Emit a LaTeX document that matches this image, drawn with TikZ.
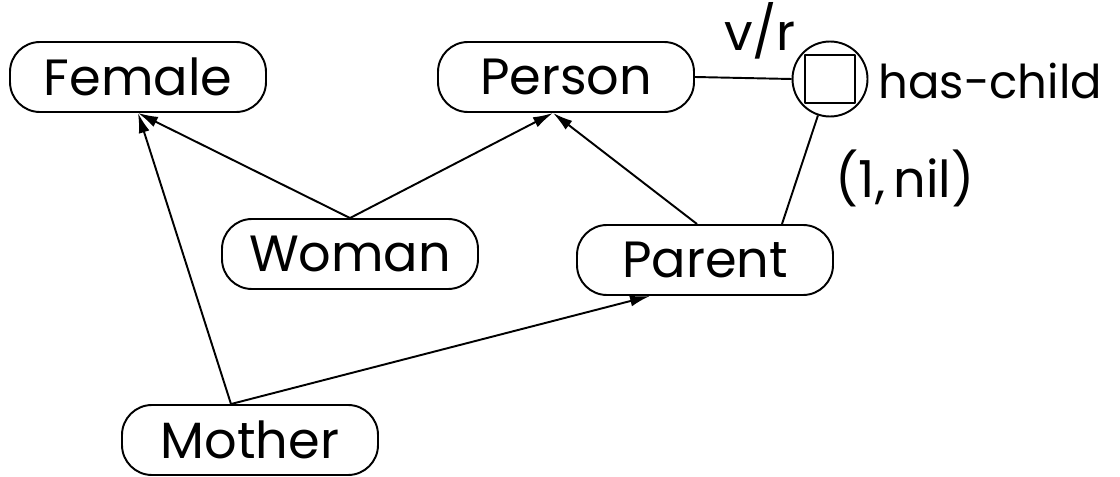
\documentclass[tikz,border=0pt]{standalone}
\usepackage{fontspec}
\setmainfont{Poppins}
\usetikzlibrary{arrows.meta}
\tikzset{
  concept/.style={draw,rounded corners=0.6cm,minimum width=5.12cm,minimum height=1.4cm,inner sep=0pt},
  isa/.style={-{Latex[length=0.4cm,width=0.22cm]}},
  rolecirc/.style={draw,circle,minimum size=1.5cm,inner sep=0pt},
  rolebox/.style={draw,minimum width=1cm,minimum height=0.95cm,inner sep=0pt},
}
\begin{document}
\begin{tikzpicture}[line width=1.1pt,line join=round,font=\fontsize{29}{34}\selectfont]
  \useasboundingbox (0,0) rectangle (22.4,9.52);
  % concepts
  \node[concept] (Female) at (2.76,7.98) {Female};
  \node[concept] (Person) at (11.32,7.98) {Person};
  \node[concept] (Woman) at (7.0,4.44) {Woman};
  \node[concept] (Parent) at (14.1,4.32) {Parent};
  \node[concept] (Mother) at (5.0,0.72) {Mother};
  % role has-child
  \node[rolecirc] (hc) at (16.6,7.94) {};
  \node[rolebox] (hcbox) at (hc) {};
  \node[anchor=west,inner sep=0pt,font=\fontsize{26.5}{30}\selectfont] (hclabel) at (17.55,7.9) {has-child};
  \node (vr) at (15.2,8.9) {v/r};
  \node (card) at (18.1,5.96) {(1,\,nil)};
  % subsumption links
  \draw[isa] (Woman.north) -- (Female.south);
  \draw[isa] (Woman.north) -- ([xshift=-0.26cm]Person.south);
  \draw[isa] ([xshift=-0.16cm]Parent.north) -- ([xshift=-0.26cm]Person.south);
  \draw[isa] ([xshift=-0.38cm]Mother.north) -- (Female.south);
  \draw[isa] ([xshift=-0.38cm]Mother.north) -- ([xshift=-1.1cm]Parent.south);
  % role links
  \draw (Person.east) -- (hc.west);
  \draw (hc) -- ([xshift=1.54cm]Parent.north);
\end{tikzpicture}
\end{document}
